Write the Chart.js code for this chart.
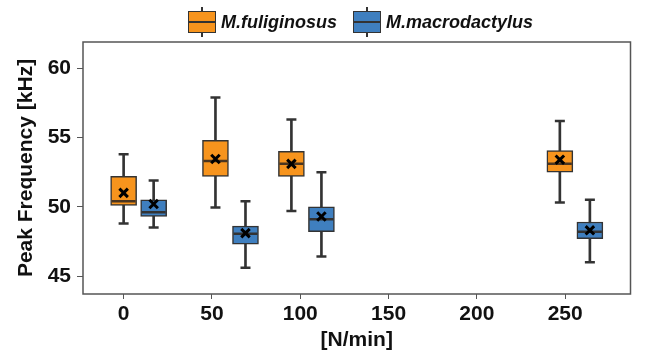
<!DOCTYPE html>
<html>
<head>
<meta charset="utf-8">
<script src="https://cdn.jsdelivr.net/npm/chart.js@4"></script>
<style>
  body { margin: 0; background: #fff; }
  #wrap { position: relative; width: 645px; height: 354px; }
  #legend { position: absolute; left: 83px; top: 7px; width: 555px; height: 30px;
    display: flex; justify-content: center; align-items: center;
    font: italic bold 18px "Liberation Sans", Arial, sans-serif; color: #111; }
  .item { display: flex; align-items: center; margin: 0 8px; }
  .ico { position: relative; width: 28px; height: 30px; display: inline-block; margin-right: 5px; }
  .ico i { position: absolute; display: block; }
  .wh { left: 13px; top: 0; width: 2px; height: 30px; background: #333; }
  .bx { left: 0; top: 4px; width: 28px; height: 22px; box-sizing: border-box; border: 1.5px solid #333; }
  .md { left: 0; top: 14px; width: 28px; height: 2px; background: #333; }
</style>
</head>
<body>
<div id="wrap">
  <canvas id="myChart" width="645" height="354"></canvas>
  <div id="legend"></div>
</div>
<script>
// series names / colours
const names = ["M.fuliginosus", "M.macrodactylus"];
const colors = ["#F7941D", "#3F7FBF"];

// tick labels
const xTicks = [0, 50, 100, 150, 200, 250];
const yTicks = [45, 50, 55, 60];

// M.fuliginosus boxes
const fulX = [0, 52, 95, 247];
const fulMin = [48.8, 49.95, 49.7, 50.3];
const fulQ1 = [50.1, 52.2, 52.2, 52.5];
const fulMed = [50.4, 53.3, 53.1, 53.1];
const fulQ3 = [52.2, 54.8, 54.0, 54.05];
const fulMax = [53.8, 57.9, 56.3, 56.2];
const fulMean = [51.0, 53.45, 53.1, 53.4];

// M.macrodactylus boxes
const macX = [17, 69, 112, 264];
const macMin = [48.5, 45.6, 46.4, 46.0];
const macQ1 = [49.3, 47.3, 48.2, 47.7];
const macMed = [49.6, 48.05, 49.1, 48.2];
const macQ3 = [50.5, 48.6, 50.0, 48.9];
const macMax = [51.9, 50.4, 52.5, 50.5];
const macMean = [50.2, 48.1, 49.3, 48.3];

// legend (html)
let legendHtml = "";
for (let i = 0; i < names.length; i++) {
  legendHtml += '<span class="item"><span class="ico"><i class="wh"></i><i class="bx" style="background:' + colors[i] +
    '"></i><i class="md"></i></span>' + names[i] + '</span>';
}
document.getElementById("legend").innerHTML = legendHtml;

function pts(xs, ys) {
  let out = [];
  for (let i = 0; i < xs.length; i++) out.push({x: xs[i], y: ys[i]});
  return out;
}
function ranges(xs, lo, hi) {
  let out = [];
  for (let i = 0; i < xs.length; i++) out.push({x: xs[i], y: [lo[i], hi[i]]});
  return out;
}

const groups = [
  {x: fulX, min: fulMin, q1: fulQ1, med: fulMed, q3: fulQ3, max: fulMax, mean: fulMean, color: colors[0], medColor: "#4a3520"},
  {x: macX, min: macMin, q1: macQ1, med: macMed, q3: macQ3, max: macMax, mean: macMean, color: colors[1], medColor: "#333"}
];

let datasets = [];
groups.forEach((g) => {
  datasets.push({ type: "bar", data: ranges(g.x, g.min, g.max), backgroundColor: "#333",
    barThickness: 2, grouped: false, order: 5 });
  datasets.push({ type: "scatter", data: pts(g.x, g.min).concat(pts(g.x, g.max)), pointStyle: "line",
    radius: 5, borderColor: "#333", borderWidth: 2.5, order: 4 });
  datasets.push({ type: "bar", data: ranges(g.x, g.q1, g.q3), backgroundColor: g.color,
    borderColor: "#333", borderWidth: 1.5, borderSkipped: false, barThickness: 26, grouped: false, order: 3 });
  datasets.push({ type: "scatter", data: pts(g.x, g.med), pointStyle: "line",
    radius: 12, borderColor: g.medColor, borderWidth: 2.5, order: 2 });
  datasets.push({ type: "scatter", data: pts(g.x, g.mean), pointStyle: "crossRot",
    radius: 6, borderColor: "#000", borderWidth: 3, order: 1 });
});

const frame = {
  id: "frame",
  afterDraw(chart) {
    const a = chart.chartArea;
    const ctx = chart.ctx;
    ctx.save();
    ctx.strokeStyle = "#555";
    ctx.lineWidth = 1.5;
    ctx.strokeRect(a.left, a.top, a.right - a.left, a.bottom - a.top);
    ctx.restore();
  }
};

const FONT = { family: "'Liberation Sans', Arial, sans-serif", size: 21, weight: "bold", lineHeight: 1.2 };

new Chart(document.getElementById("myChart"), {
  type: "bar",
  data: { datasets: datasets },
  plugins: [frame],
  options: {
    responsive: false,
    animation: false,
    layout: { padding: { top: 42, right: 7, left: 0, bottom: 0 } },
    plugins: { legend: { display: false }, tooltip: { enabled: false } },
    scales: {
      x: {
        type: "linear",
        min: -23, max: 287,
        offset: false,
        afterFit: (s) => { s.height = 60; },
        afterBuildTicks: (s) => { s.ticks = xTicks.map((v) => ({value: v})); },
        grid: { display: true, drawOnChartArea: false, drawTicks: true, tickLength: 5, color: "#555", offset: false },
        border: { display: false },
        ticks: { color: "#111", font: FONT, padding: 3, maxRotation: 0 },
        title: { display: true, text: "[N/min]", color: "#111", font: FONT, padding: { top: 0, bottom: 1 } }
      },
      y: {
        type: "linear",
        min: 43.7, max: 61.9,
        afterFit: (s) => { s.width = 83; },
        afterBuildTicks: (s) => { s.ticks = yTicks.map((v) => ({value: v})); },
        grid: { display: true, drawOnChartArea: false, drawTicks: true, tickLength: 6, color: "#555" },
        border: { display: false },
        ticks: { color: "#111", font: FONT, padding: 6 },
        title: { display: true, text: "Peak Frequency [kHz]", color: "#111", font: FONT, padding: { top: 14, bottom: 0 } }
      }
    }
  }
});
</script>
</body>
</html>
